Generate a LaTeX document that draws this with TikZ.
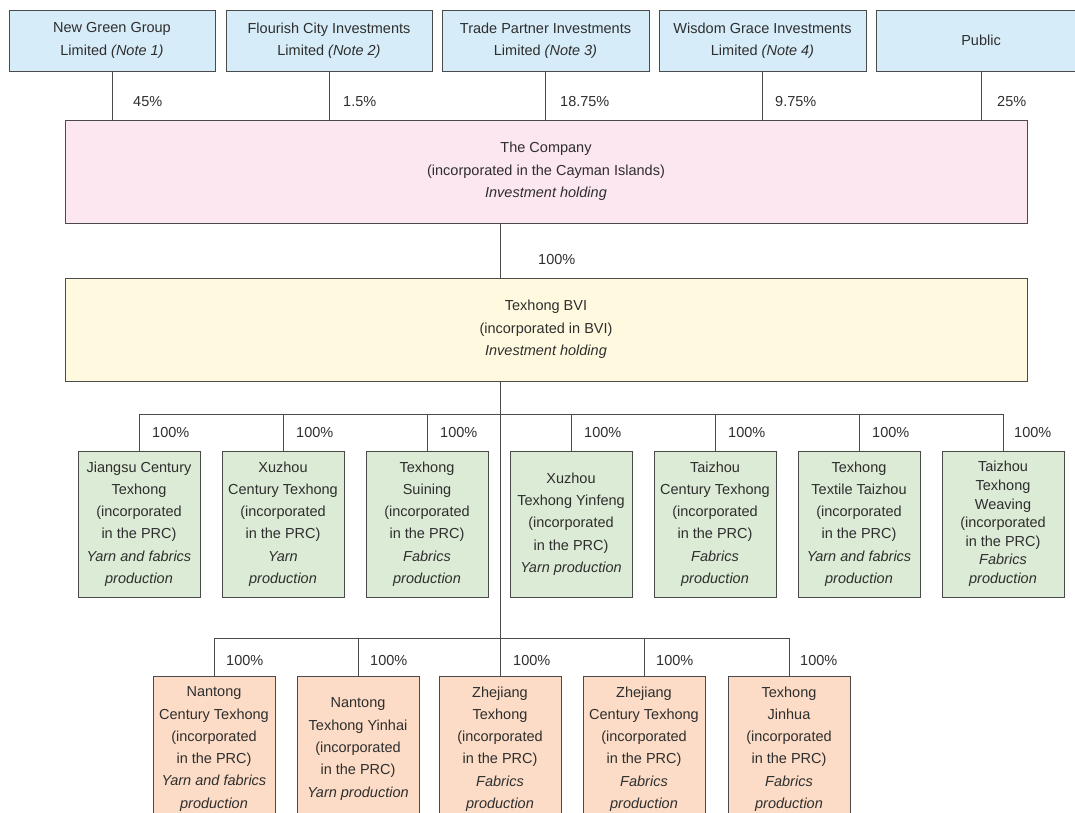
\documentclass[tikz,border=0pt]{standalone}
\usepackage{fontspec}
\setmainfont{Liberation Sans}

\definecolor{holderblue}{HTML}{D6ECF8}
\definecolor{companypink}{HTML}{FCE6F0}
\definecolor{bviyellow}{HTML}{FFFADF}
\definecolor{subgreen}{HTML}{DCEBD5}
\definecolor{subpeach}{HTML}{FCDCC6}
\definecolor{boxline}{HTML}{4A4A4A}
\definecolor{txt}{HTML}{2E2E2E}

\begin{document}
\begin{tikzpicture}[x=1pt, y=-1pt,
  box/.style={draw=boxline, line width=0.8pt, inner sep=0pt, align=center, text=txt,
    font=\fontsize{14.5}{22.3}\selectfont},
  holder/.style={box, fill=holderblue, minimum height=61pt},
  parent/.style={box, minimum width=962pt, minimum height=103pt},
  sub/.style={box, minimum width=122pt, minimum height=146pt},
  pct/.style={anchor=west, inner sep=0pt, text=txt, font=\fontsize{14.5}{17}\selectfont},
  link/.style={draw=boxline, line width=0.8pt}]

\clip (0,0) rectangle (1075,812);

% Shareholders
\node[holder, minimum width=206pt] (ngg) at (112,40.5) {New Green Group\\Limited \textit{(Note 1)}};
\node[holder, minimum width=206pt] (fci) at (329,40.5) {Flourish City Investments\\Limited \textit{(Note 2)}};
\node[holder, minimum width=207pt] (tpi) at (545.5,40.5) {Trade Partner Investments\\Limited \textit{(Note 3)}};
\node[holder, minimum width=207pt] (wgi) at (762.5,40.5) {Wisdom Grace Investments\\Limited \textit{(Note 4)}};
\node[holder, minimum width=210pt] (pub) at (981,40.5) {Public};

% Company and BVI
\node[parent, fill=companypink] (comp) at (546,171.5) {The Company\\(incorporated in the Cayman Islands)\\\textit{Investment holding}};
\node[parent, fill=bviyellow] (bvi) at (546,329.5) {Texhong BVI\\(incorporated in BVI)\\\textit{Investment holding}};

% Subsidiaries, first row
\node[sub, fill=subgreen] (jct) at (139,524) {Jiangsu Century\\Texhong\\(incorporated\\in the PRC)\\\textit{Yarn and fabrics}\\\textit{production}};
\node[sub, fill=subgreen] (xct) at (283,524) {Xuzhou\\Century Texhong\\(incorporated\\in the PRC)\\\textit{Yarn}\\\textit{production}};
\node[sub, fill=subgreen] (tsn) at (427,524) {Texhong\\Suining\\(incorporated\\in the PRC)\\\textit{Fabrics}\\\textit{production}};
\node[sub, fill=subgreen] (xty) at (571,524) {Xuzhou\\Texhong Yinfeng\\(incorporated\\in the PRC)\\\textit{Yarn production}};
\node[sub, fill=subgreen] (tct) at (715,524) {Taizhou\\Century Texhong\\(incorporated\\in the PRC)\\\textit{Fabrics}\\\textit{production}};
\node[sub, fill=subgreen] (ttt) at (859,524) {Texhong\\Textile Taizhou\\(incorporated\\in the PRC)\\\textit{Yarn and fabrics}\\\textit{production}};
\node[sub, fill=subgreen, font=\fontsize{14.5}{18.6}\selectfont] (ttw) at (1003,524) {Taizhou\\Texhong\\Weaving\\(incorporated\\in the PRC)\\\textit{Fabrics}\\\textit{production}};

% Subsidiaries, second row
\node[sub, fill=subpeach] (nct) at (214,749) {Nantong\\Century Texhong\\(incorporated\\in the PRC)\\\textit{Yarn and fabrics}\\\textit{production}};
\node[sub, fill=subpeach] (nty) at (358,749) {Nantong\\Texhong Yinhai\\(incorporated\\in the PRC)\\\textit{Yarn production}};
\node[sub, fill=subpeach] (zjt) at (500,749) {Zhejiang\\Texhong\\(incorporated\\in the PRC)\\\textit{Fabrics}\\\textit{production}};
\node[sub, fill=subpeach] (zct) at (644,749) {Zhejiang\\Century Texhong\\(incorporated\\in the PRC)\\\textit{Fabrics}\\\textit{production}};
\node[sub, fill=subpeach] (tjh) at (789,749) {Texhong\\Jinhua\\(incorporated\\in the PRC)\\\textit{Fabrics}\\\textit{production}};

% Bus lines
\coordinate (busa) at (0,414);
\coordinate (busb) at (0,638);

% Shareholder links
\draw[link] (ngg.south) -- (ngg.south |- comp.north);
\draw[link] (fci.south) -- (fci.south |- comp.north);
\draw[link] (tpi.south) -- (tpi.south |- comp.north);
\draw[link] (wgi.south) -- (wgi.south |- comp.north);
\draw[link] (pub.south) -- (pub.south |- comp.north);

% Trunk
\draw[link] (zjt.north |- comp.south) -- (zjt.north |- bvi.north);
\draw[link] (zjt.north |- bvi.south) -- (zjt.north);

% First row links
\draw[link] (jct.north) -- (jct.north |- busa) -- (ttw.north |- busa) -- (ttw.north);
\draw[link] (xct.north) -- (xct.north |- busa);
\draw[link] (tsn.north) -- (tsn.north |- busa);
\draw[link] (xty.north) -- (xty.north |- busa);
\draw[link] (tct.north) -- (tct.north |- busa);
\draw[link] (ttt.north) -- (ttt.north |- busa);

% Second row links
\draw[link] (nct.north) -- (nct.north |- busb) -- (tjh.north |- busb) -- (tjh.north);
\draw[link] (nty.north) -- (nty.north |- busb);
\draw[link] (zct.north) -- (zct.north |- busb);

% Percentages
\node[pct] (pngg) at (133,102) {45\%};
\node[pct] (pfci) at (343,102) {1.5\%};
\node[pct] (ptpi) at (560,102) {18.75\%};
\node[pct] (pwgi) at (775,102) {9.75\%};
\node[pct] (ppub) at (997,102) {25\%};
\node[pct] (pbvi) at (538,260) {100\%};
\node[pct] (pjct) at (152,432) {100\%};
\node[pct] (pxct) at (296,432) {100\%};
\node[pct] (ptsn) at (440,432) {100\%};
\node[pct] (pxty) at (584,432) {100\%};
\node[pct] (ptct) at (728,432) {100\%};
\node[pct] (pttt) at (872,432) {100\%};
\node[pct] (pttw) at (1014,432) {100\%};
\node[pct] (pnct) at (226,660) {100\%};
\node[pct] (pnty) at (370,660) {100\%};
\node[pct] (pzjt) at (513,660) {100\%};
\node[pct] (pzct) at (656,660) {100\%};
\node[pct] (ptjh) at (800,660) {100\%};

\end{tikzpicture}
\end{document}
